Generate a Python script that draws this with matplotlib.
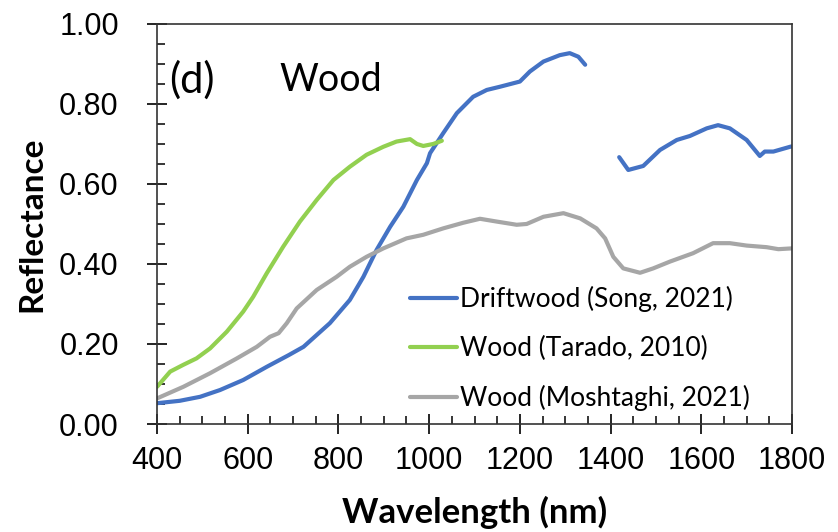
import matplotlib
matplotlib.use('Agg')
import matplotlib.pyplot as plt
from matplotlib.ticker import MultipleLocator, FormatStrFormatter

# Driftwood (Song, 2021) - two segments (gap around 1350-1420 nm)
drift_wl_a = [400, 450, 495, 539, 590, 642, 690, 723, 781, 825, 855, 884, 914, 943,
              973, 995, 1002, 1031, 1061, 1097, 1127, 1156, 1200, 1222, 1252, 1288,
              1310, 1329, 1344]
drift_r_a = [0.052, 0.058, 0.068, 0.085, 0.110, 0.143, 0.172, 0.193, 0.252, 0.310,
             0.368, 0.435, 0.493, 0.543, 0.610, 0.652, 0.677, 0.727, 0.777, 0.818,
             0.835, 0.843, 0.856, 0.881, 0.906, 0.922, 0.927, 0.918, 0.898]
drift_wl_b = [1419, 1439, 1472, 1509, 1546, 1575, 1612, 1637, 1663, 1700, 1729, 1740,
              1759, 1796, 1800]
drift_r_b = [0.667, 0.635, 0.645, 0.685, 0.710, 0.720, 0.739, 0.747, 0.739, 0.710,
             0.670, 0.681, 0.681, 0.693, 0.694]

# Wood (Tarado, 2010)
tarado_wl = [400, 429, 458, 487, 517, 554, 590, 612, 642, 678, 715, 752, 789, 825,
             862, 899, 928, 958, 973, 987, 1009, 1028]
tarado_r = [0.093, 0.131, 0.148, 0.164, 0.189, 0.231, 0.281, 0.318, 0.377, 0.443,
            0.506, 0.560, 0.610, 0.643, 0.673, 0.693, 0.706, 0.712, 0.700, 0.695,
            0.700, 0.708]

# Wood (Moshtaghi, 2021)
mosh_wl = [400, 458, 517, 576, 620, 649, 668, 686, 708, 752, 796, 825, 862, 899, 950,
           987, 1031, 1075, 1112, 1149, 1193, 1215, 1252, 1296, 1333, 1369, 1388,
           1406, 1428, 1465, 1494, 1531, 1582, 1626, 1663, 1700, 1744, 1770, 1800]
mosh_r = [0.064, 0.093, 0.127, 0.164, 0.193, 0.218, 0.227, 0.252, 0.289, 0.335, 0.368,
          0.393, 0.418, 0.439, 0.464, 0.473, 0.489, 0.503, 0.513, 0.506, 0.498, 0.500,
          0.518, 0.527, 0.514, 0.489, 0.464, 0.418, 0.389, 0.378, 0.389, 0.406, 0.427,
          0.452, 0.452, 0.446, 0.442, 0.437, 0.439]

BLUE = '#4472C4'
GREEN = '#92D050'
GREY = '#A6A6A6'

TEXT_FONT = ['Lato', 'DejaVu Sans']
plt.rcParams['font.family'] = ['Liberation Sans', 'DejaVu Sans']

fig = plt.figure(figsize=(8.38, 5.32), dpi=100)
ax = fig.add_axes([0.1874, 0.203, 0.7577, 0.752])

ax.plot(drift_wl_a, drift_r_a, color=BLUE, lw=3, solid_capstyle='round',
        label='Driftwood (Song, 2021)')
ax.plot(drift_wl_b, drift_r_b, color=BLUE, lw=3, solid_capstyle='round')
ax.plot(tarado_wl, tarado_r, color=GREEN, lw=3, solid_capstyle='round',
        label='Wood (Tarado, 2010)')
ax.plot(mosh_wl, mosh_r, color=GREY, lw=3, solid_capstyle='round',
        label='Wood (Moshtaghi, 2021)')

ax.set_xlim(400, 1800)
ax.set_ylim(0, 1.0)
ax.xaxis.set_major_locator(MultipleLocator(200))
ax.xaxis.set_minor_locator(MultipleLocator(50))
ax.yaxis.set_major_locator(MultipleLocator(0.2))
ax.yaxis.set_minor_locator(MultipleLocator(0.05))
ax.yaxis.set_major_formatter(FormatStrFormatter('%.2f'))

ax.tick_params(which='major', direction='inout', length=15, width=1.2,
               labelsize=22)
ax.tick_params(axis='y', which='major', pad=20)
ax.tick_params(axis='x', which='major', pad=8)
ax.tick_params(which='minor', direction='in', length=6, width=1.1)
for sp in ax.spines.values():
    sp.set_linewidth(1.2)
    sp.set_color('#333333')

ax.set_xlabel('Wavelength (nm)', fontsize=25, fontweight='bold', family=TEXT_FONT,
              labelpad=15)
ax.set_ylabel('Reflectance', fontsize=24, fontweight='bold', family=TEXT_FONT,
              labelpad=9)

ax.text(0.019, 0.86, '(d)', transform=ax.transAxes, fontsize=30, family=TEXT_FONT,
        va='center')
ax.text(0.193, 0.86, 'Wood', transform=ax.transAxes, fontsize=27, family=TEXT_FONT,
        va='center')

ax.legend(loc='upper left', bbox_to_anchor=(0.381, 0.372), frameon=False,
          prop={'family': TEXT_FONT, 'size': 19}, handlelength=1.8,
          handletextpad=0.12, labelspacing=0.91, borderaxespad=0)

fig.savefig('out.png', dpi=100)
